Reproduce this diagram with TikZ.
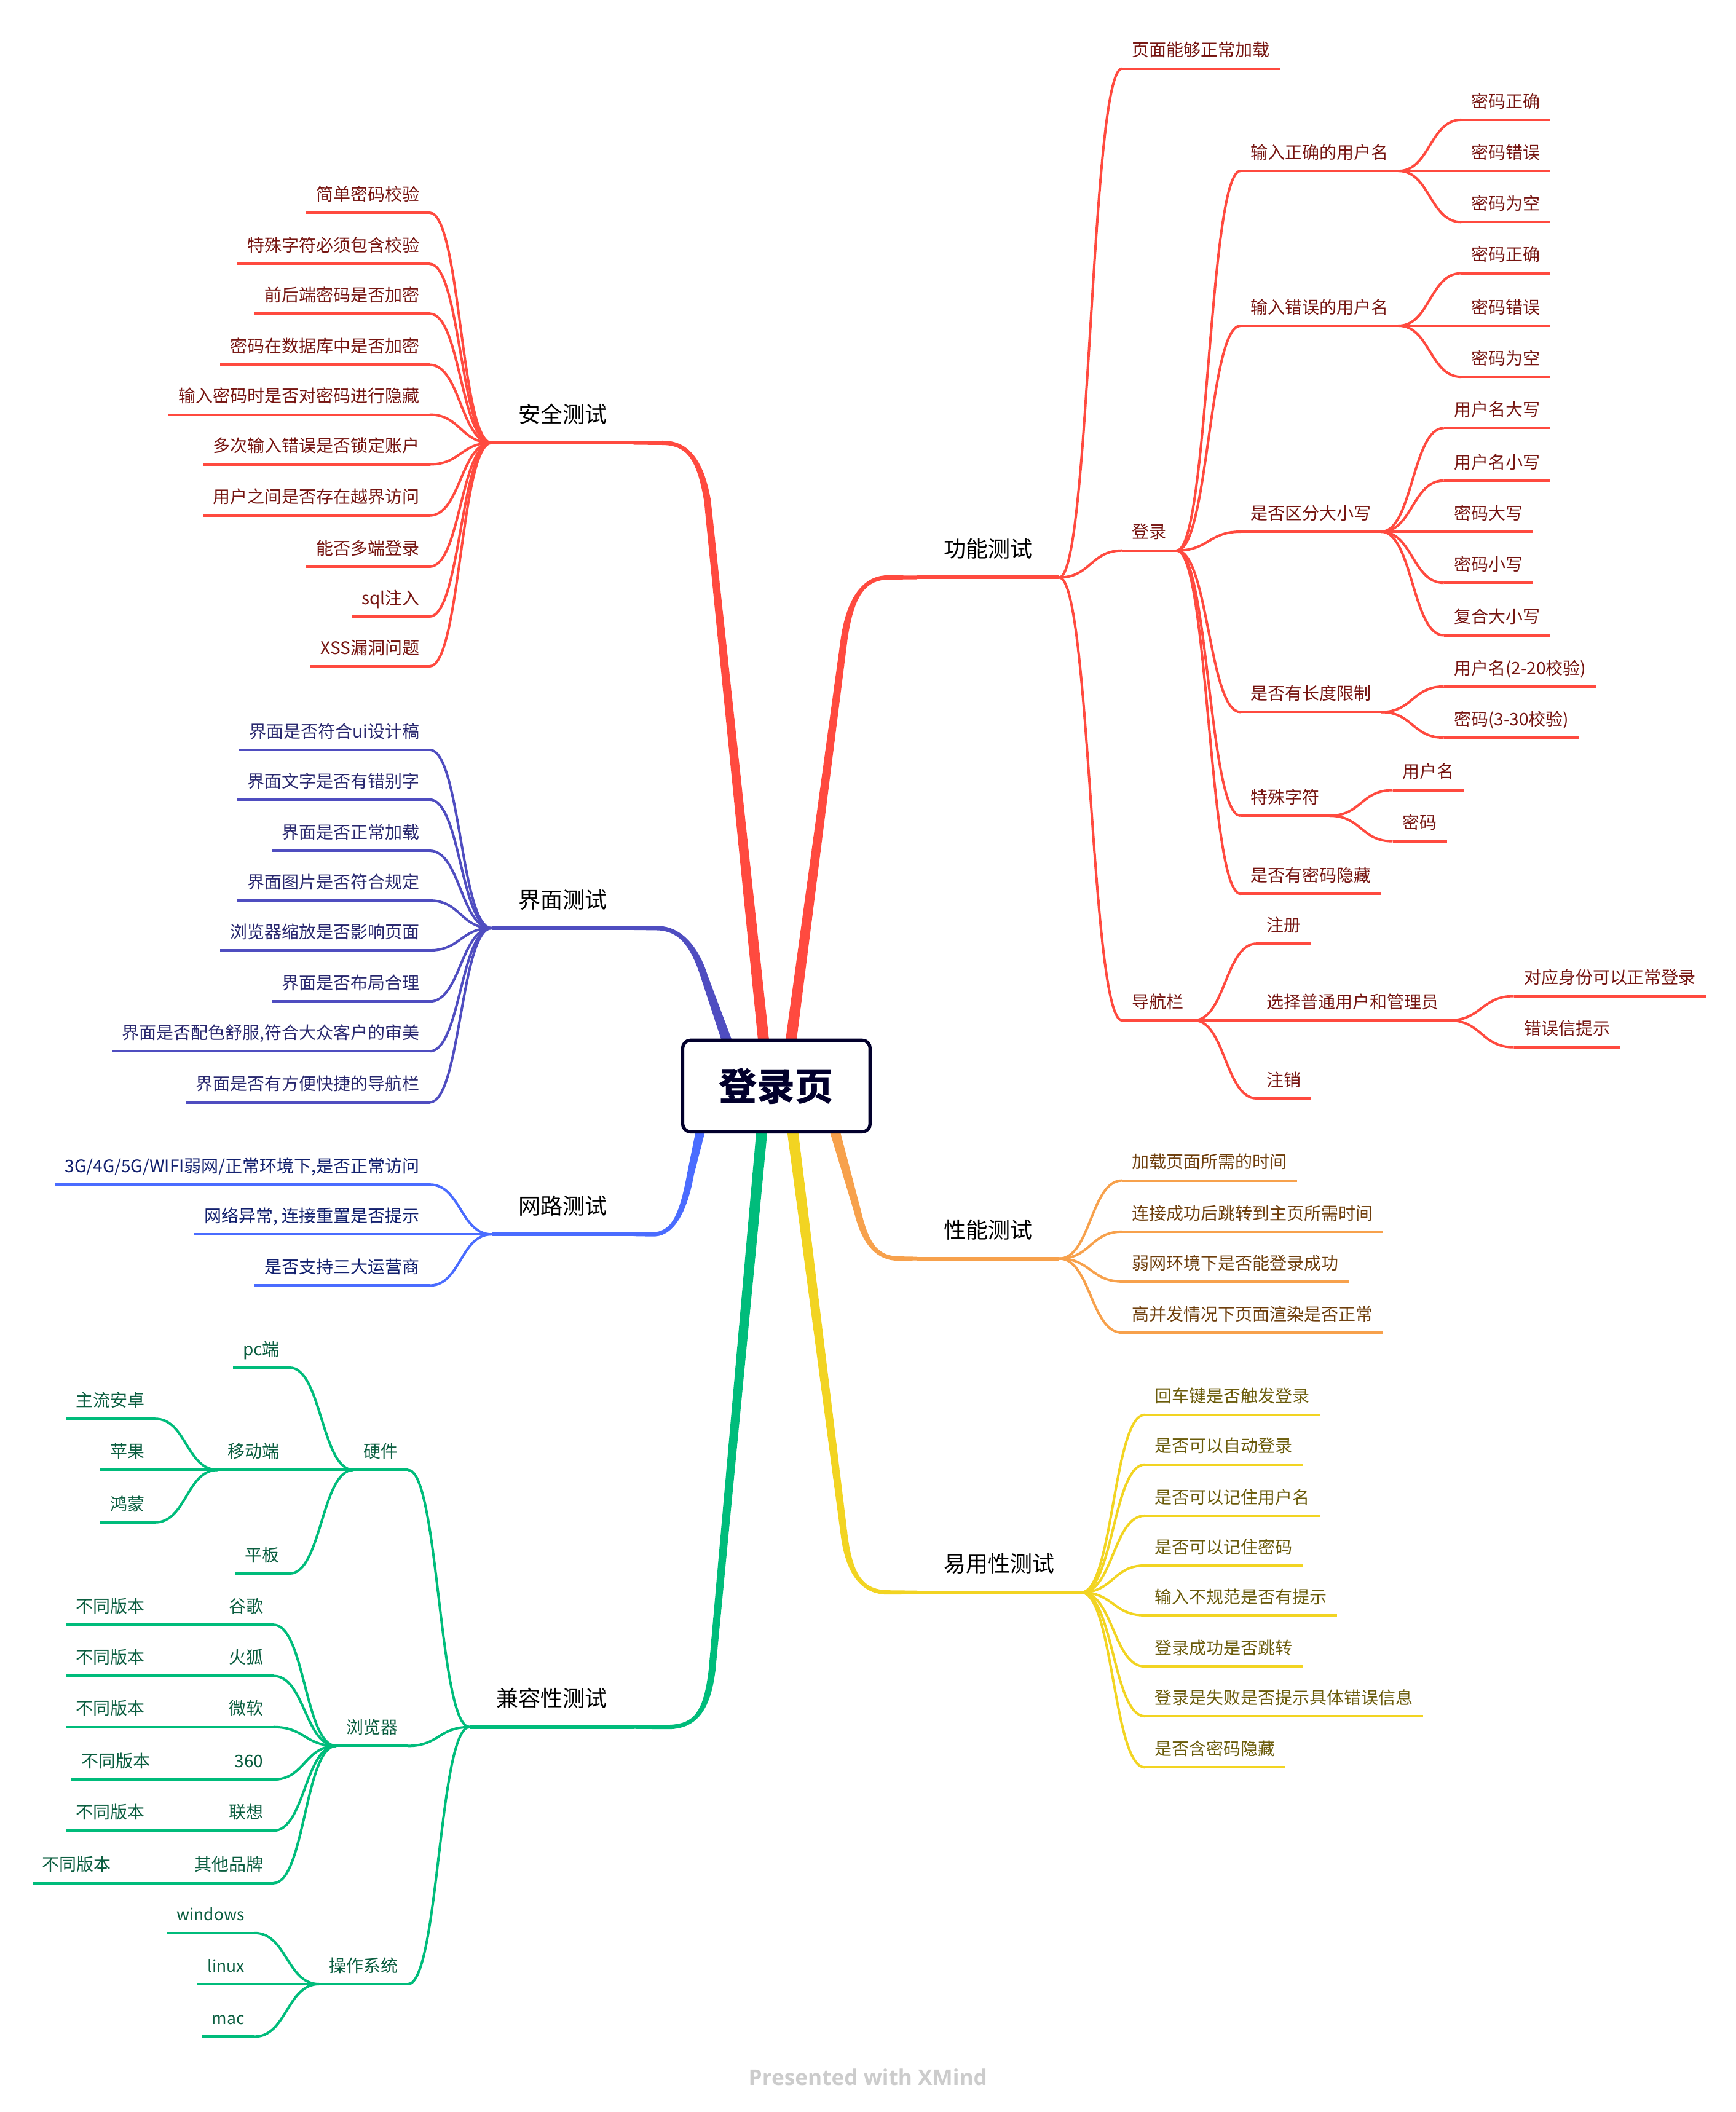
\documentclass[tikz,border=0pt]{standalone}
\usepackage{fontspec}
\setmainfont{Noto Sans CJK SC}
\newfontfamily\markfont{Open Sans}
\usetikzlibrary{calc,backgrounds}
\definecolor{rootc}{HTML}{02002C}
\definecolor{redl}{HTML}{FF4A3F}\definecolor{redt}{HTML}{761511}
\definecolor{purl}{HTML}{4F4DC0}\definecolor{purt}{HTML}{29286F}
\definecolor{blul}{HTML}{4A6CFF}\definecolor{blut}{HTML}{12206E}
\definecolor{grnl}{HTML}{00BC7B}\definecolor{grnt}{HTML}{0B5E40}
\definecolor{yell}{HTML}{F2D422}\definecolor{yelt}{HTML}{6B5C0C}
\definecolor{oral}{HTML}{F7A14C}\definecolor{orat}{HTML}{6E3E0C}
\tikzset{
  topic/.style={inner xsep=8pt,inner ysep=0pt,minimum height=30pt,text height=12.3pt,text depth=1.7pt,font=\fontsize{14}{14}\selectfont,text=ctext},
  main/.style={inner xsep=21.5pt,inner ysep=0pt,minimum height=46pt,text height=15.8pt,text depth=2.2pt,font=\fontsize{18}{18}\selectfont,text=black},
  uline/.style={draw=cline,line width=2pt},
  mline/.style={draw=cline,line width=3pt}
}
\newcommand{\setColors}[2]{\colorlet{cline}{#1}\colorlet{ctext}{#2}}
% parent end to child start
\newcommand{\newFold}[2]{\coordinate (m) at ($(#1)!.5!(#2)$);
  \draw[uline] (#1) .. controls (m |- #1) and (m |- #2) .. (#2);}
\newcommand{\newMainR}[3]{\node[main,anchor=south west](#1) at (#3){#2};
  \draw[mline] (#1.south west) -- (#1.south east);}
\newcommand{\newMainL}[3]{\node[main,anchor=south east](#1) at (#3){#2};
  \draw[mline] (#1.south east) -- (#1.south west);}
\newcommand{\newKidR}[4]{\node[topic,anchor=south west](#1) at ($(#3)+(.8,0)$){#2};
  \draw[uline] (#1.south west) -- (#1.south east);
  \newFold{#4.south east}{#1.south west}}
\newcommand{\newKidL}[4]{\node[topic,anchor=south east](#1) at ($(#3)+(.8,0)$){#2};
  \draw[uline] (#1.south east) -- (#1.south west);
  \newFold{#4.south west}{#1.south east}}
% thick tapered branch from the root
\newcommand{\newBranch}[7]{\begin{scope}[on background layer]
  \coordinate (bs) at ($(root.center)+(#1)$);\coordinate (bn) at (#7);
  \fill[cline] ($(bs)+4.2*(bn)$) -- ($(#2)+2.5*(bn)$) .. controls ($(#3)+2.5*(bn)$) and ($(#4)+(0,-1.9)$) .. ($(#5)+(0,-1.6)$)
    -- ($(#6)+(0,-1.37)$) -- ($(#6)+(0,1.37)$) -- ($(#5)+(0,1.6)$)
    .. controls ($(#4)+(0,1.9)$) and ($(#3)-2.5*(bn)$) .. ($(#2)-2.5*(bn)$) -- ($(bs)-4.2*(bn)$) -- cycle;
  \end{scope}}
\newcommand{\smallLatin}[1]{{\fontsize{13.2}{14}\selectfont #1}}
\begin{document}
\begin{tikzpicture}[x=1.095pt,y=-1.095pt]
  \useasboundingbox (0,0) rectangle (1289.5,1569);
  \node[draw=rootc,fill=white,line width=2.7pt,rounded corners=6.5pt,minimum width=152.5pt,minimum height=74.5pt,inner sep=0pt,
    text=rootc,font=\fontsize{31}{31}\selectfont\bfseries](root) at (576.7,806.8){\raisebox{1.5pt}{登录页}};

  % function
  \setColors{redl}{redt}
  \newMainR{func}{功能测试}{681.4,429}
  \newBranch{6.4,0}{627,475}{632,440}{644,429}{660,429}{func.south west}{-1,-.13}
  \newKidR{load}{页面能够正常加载}{832.7,51}{func}
  \newKidR{login}{登录}{832.7,409}{func}
  \newKidR{nav}{导航栏}{832.7,758}{func}
  \newKidR{uok}{输入正确的用户名}{920.7,127}{login}
  \newKidR{ubad}{输入错误的用户名}{920.7,242}{login}
  \newKidR{ucase}{是否区分大小写}{920.7,395}{login}
  \newKidR{ulen}{是否有长度限制}{920.7,529}{login}
  \newKidR{uspec}{特殊字符}{920.7,606}{login}
  \newKidR{uhide}{是否有密码隐藏}{920.7,664}{login}
  \newKidR{okA}{密码正确}{1084.7,89}{uok}
  \newKidR{okB}{密码错误}{1084.7,127}{uok}
  \newKidR{okC}{密码为空}{1084.7,165}{uok}
  \newKidR{badA}{密码正确}{1084.7,203}{ubad}
  \newKidR{badB}{密码错误}{1084.7,242}{ubad}
  \newKidR{badC}{密码为空}{1084.7,280}{ubad}
  \newKidR{caseA}{用户名大写}{1071.7,318}{ucase}
  \newKidR{caseB}{用户名小写}{1071.7,357}{ucase}
  \newKidR{caseC}{密码大写}{1071.7,395}{ucase}
  \newKidR{caseD}{密码小写}{1071.7,433}{ucase}
  \newKidR{caseE}{复合大小写}{1071.7,472}{ucase}
  \newKidR{lenA}{用户名(2-20校验)}{1071.7,510}{ulen}
  \newKidR{lenB}{密码(3-30校验)}{1071.7,548}{ulen}
  \newKidR{specA}{用户名}{1033.7,587}{uspec}
  \newKidR{specB}{密码}{1033.7,625}{uspec}
  \newKidR{navA}{注册}{932.7,701}{nav}
  \newKidR{navB}{选择普通用户和管理员}{932.7,758}{nav}
  \newKidR{navC}{注销}{932.7,816}{nav}
  \newKidR{roleA}{对应身份可以正常登录}{1123.7,740}{navB}
  \newKidR{roleB}{错误信提示}{1123.7,778}{navB}

  % performance
  \setColors{oral}{orat}
  \newMainR{perf}{性能测试}{681.4,935}
  \newBranch{34,0}{637,900}{643,925}{652,935}{668,935}{perf.south west}{1,-.27}
  \newKidR{perfA}{加载页面所需的时间}{832.7,877}{perf}
  \newKidR{perfB}{连接成功后跳转到主页所需时间}{832.7,915}{perf}
  \newKidR{perfC}{弱网环境下是否能登录成功}{832.7,952}{perf}
  \newKidR{perfD}{高并发情况下页面渲染是否正常}{832.7,990}{perf}

  % usability
  \setColors{yell}{yelt}
  \newMainR{easy}{易用性测试}{681.4,1183}
  \newBranch{7.8,0}{627,1140}{631,1172}{642,1183}{660,1183}{easy.south west}{1,-.13}
  \newKidR{easyA}{回车键是否触发登录}{849.7,1051}{easy}
  \newKidR{easyB}{是否可以自动登录}{849.7,1088}{easy}
  \newKidR{easyC}{是否可以记住用户名}{849.7,1126}{easy}
  \newKidR{easyD}{是否可以记住密码}{849.7,1163}{easy}
  \newKidR{easyE}{输入不规范是否有提示}{849.7,1200}{easy}
  \newKidR{easyF}{登录成功是否跳转}{849.7,1238}{easy}
  \newKidR{easyG}{登录是失败是否提示具体错误信息}{849.7,1275}{easy}
  \newKidR{easyH}{是否含密码隐藏}{849.7,1313}{easy}

  % security
  \setColors{redl}{redt}
  \newMainL{safe}{安全测试}{470.6,329}
  \newBranch{-6,0}{525.5,372}{520,340}{510,329}{492,329}{safe.south east}{1,-.1}
  \newKidL{safeA}{简单密码校验}{318.3,158}{safe}
  \newKidL{safeB}{特殊字符必须包含校验}{318.3,196}{safe}
  \newKidL{safeC}{前后端密码是否加密}{318.3,233}{safe}
  \newKidL{safeD}{密码在数据库中是否加密}{318.3,271}{safe}
  \newKidL{safeE}{输入密码时是否对密码进行隐藏}{318.3,308}{safe}
  \newKidL{safeF}{多次输入错误是否锁定账户}{318.3,345}{safe}
  \newKidL{safeG}{用户之间是否存在越界访问}{318.3,383}{safe}
  \newKidL{safeH}{能否多端登录}{318.3,421}{safe}
  \newKidL{safeI}{sql注入}{318.3,458}{safe}
  \newKidL{safeJ}{XSS漏洞问题}{318.3,495}{safe}

  % interface
  \setColors{purl}{purt}
  \newMainL{face}{界面测试}{470.6,689.5}
  \newBranch{-25,0}{523,725}{515,700}{503,689.5}{488,689.5}{face.south east}{1,-.33}
  \newKidL{faceA}{界面是否符合ui设计稿}{318.3,557}{face}
  \newKidL{faceB}{界面文字是否有错别字}{318.3,594}{face}
  \newKidL{faceC}{界面是否正常加载}{318.3,632}{face}
  \newKidL{faceD}{界面图片是否符合规定}{318.3,669}{face}
  \newKidL{faceE}{浏览器缩放是否影响页面}{318.3,706}{face}
  \newKidL{faceF}{界面是否布局合理}{318.3,744}{face}
  \newKidL{faceG}{界面是否配色舒服,符合大众客户的审美}{318.3,781}{face}
  \newKidL{faceH}{界面是否有方便快捷的导航栏}{318.3,819}{face}

  % network
  \setColors{blul}{blut}
  \newMainL{net}{网路测试}{470.6,917}
  \newBranch{-48.7,0}{513,872}{507,905}{498,917}{485,917}{net.south east}{-1,-.23}
  \newKidL{netA}{3G/4G/5G/WIFI弱网/正常环境下,是否正常访问}{318.3,880}{net}
  \newKidL{netB}{网络异常, 连接重置是否提示}{318.3,917}{net}
  \newKidL{netC}{是否支持三大运营商}{318.3,955}{net}

  % compatibility
  \setColors{grnl}{grnt}
  \newMainL{comp}{兼容性测试}{470.6,1283}
  \newBranch{-7.7,0}{529,1240}{525,1275}{514,1283}{495,1283}{comp.south east}{-1,-.09}
  \newKidL{hard}{硬件}{302.3,1092}{comp}
  \newKidL{brow}{浏览器}{302.3,1297}{comp}
  \newKidL{osys}{操作系统}{302.3,1474}{comp}
  \newKidL{pc}{pc端}{214.3,1016}{hard}
  \newKidL{mob}{移动端}{214.3,1092}{hard}
  \newKidL{pad}{平板}{214.3,1169}{hard}
  \newKidL{mobA}{主流安卓}{114.3,1054}{mob}
  \newKidL{mobB}{苹果}{114.3,1092}{mob}
  \newKidL{mobC}{鸿蒙}{114.3,1131}{mob}
  \newKidL{chrome}{谷歌}{202.3,1207}{brow}
  \newKidL{fox}{火狐}{202.3,1245}{brow}
  \newKidL{ms}{微软}{202.3,1283}{brow}
  \newKidL{qihu}{360}{202.3,1322}{brow}
  \newKidL{lenovo}{联想}{202.3,1360}{brow}
  \newKidL{other}{其他品牌}{202.3,1399}{brow}
  \newKidL{chromeV}{不同版本}{114.3,1207}{chrome}
  \newKidL{foxV}{不同版本}{114.3,1245}{fox}
  \newKidL{msV}{不同版本}{114.3,1283}{ms}
  \newKidL{qihuV}{不同版本}{118.3,1322}{qihu}
  \newKidL{lenovoV}{不同版本}{114.3,1360}{lenovo}
  \newKidL{otherV}{不同版本}{89.3,1399}{other}
  \newKidL{win}{\smallLatin{windows}}{188.3,1436}{osys}
  \newKidL{linux}{\smallLatin{linux}}{188.3,1474}{osys}
  \newKidL{mac}{\smallLatin{mac}}{188.3,1513}{osys}

  \node[text=black!20,font=\markfont\fontsize{17.6}{18}\selectfont\bfseries](mark) at (644.7,1543){Presented with XMind};
\end{tikzpicture}
\end{document}
